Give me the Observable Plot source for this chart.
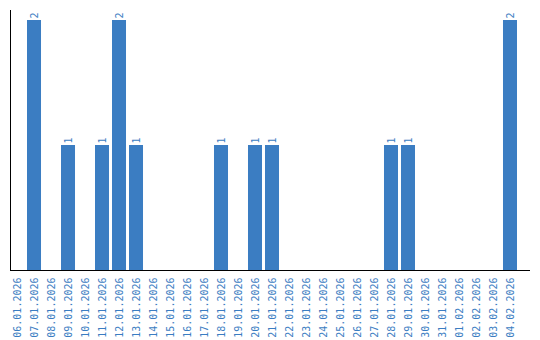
<!DOCTYPE html>
<html>
<head>
<meta charset="utf-8">
<script src="https://cdn.jsdelivr.net/npm/d3@7"></script>
<script src="https://cdn.jsdelivr.net/npm/@observablehq/plot@0.6"></script>
<style>
  html, body { margin: 0; padding: 0; background: #fff; }
</style>
</head>
<body>
<div id="chart"></div>
<script>
const dates = ["06.01.2026","07.01.2026","08.01.2026","09.01.2026","10.01.2026","11.01.2026","12.01.2026","13.01.2026","14.01.2026","15.01.2026","16.01.2026","17.01.2026","18.01.2026","19.01.2026","20.01.2026","21.01.2026","22.01.2026","23.01.2026","24.01.2026","25.01.2026","26.01.2026","27.01.2026","28.01.2026","29.01.2026","30.01.2026","31.01.2026","01.02.2026","02.02.2026","03.02.2026","04.02.2026"];
const counts = [0,2,0,1,0,1,2,1,0,0,0,0,1,0,1,1,0,0,0,0,0,0,1,1,0,0,0,0,0,2];

const data = dates.map((d, i) => ({date: d, count: counts[i]}));
const nonzero = data.filter(d => d.count > 0);
const blue = "#3b7dc2";
const font = "DejaVu Sans Mono, monospace";

const axisLines = (index, scales, values, dimensions) => {
  const {marginLeft, marginTop, height, marginBottom} = dimensions;
  const y0 = height - marginBottom;
  const g = d3.create("svg:g").attr("stroke", "#000").attr("fill", "none");
  g.append("line")
    .attr("x1", marginLeft + 0.5).attr("x2", marginLeft + 0.5)
    .attr("y1", marginTop).attr("y2", y0 + 0.5);
  g.append("line")
    .attr("x1", marginLeft).attr("x2", 530)
    .attr("y1", y0 + 0.5).attr("y2", y0 + 0.5);
  return g.node();
};

const chart = Plot.plot({
  width: 540,
  height: 340,
  marginLeft: 10,
  marginRight: 23,
  marginTop: 10,
  marginBottom: 70,
  style: {fontFamily: font, fontSize: "10px", background: "#fff"},
  x: {domain: dates, paddingInner: 0.176, paddingOuter: 0, round: false, label: null},
  y: {domain: [0, 2.08], axis: null},
  marks: [
    Plot.barY(data, {x: "date", y: "count", fill: blue}),
    Plot.text(nonzero, {x: "date", y: "count", text: d => String(d.count), rotate: -90, textAnchor: "start", dy: -2, fill: blue, fontSize: 10}),
    Plot.axisX({tickRotate: -90, tickSize: 0, tickPadding: 7, fill: blue, label: null, fontSize: 10}),
    axisLines
  ]
});
document.getElementById("chart").appendChild(chart);
</script>
</body>
</html>
